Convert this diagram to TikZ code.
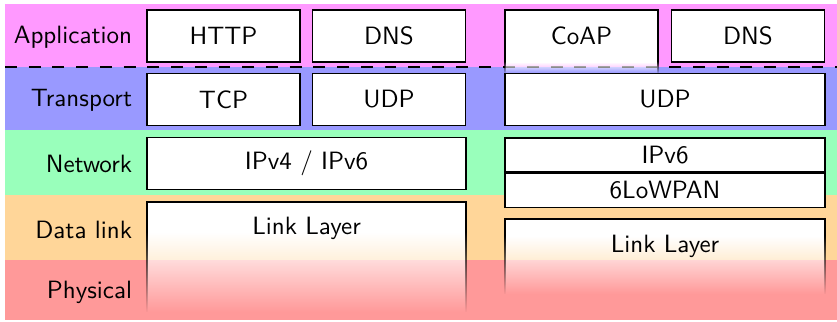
\documentclass[tikz,border=0pt]{standalone}
\usepackage{xcolor}
\usepackage{tikz}
\usetikzlibrary{positioning,fadings}

\definecolor{appcol}{RGB}{255,153,255}
\definecolor{trancol}{RGB}{153,153,255}
\definecolor{netcol}{RGB}{153,255,187}
\definecolor{linkcol}{RGB}{255,214,153}
\definecolor{phycol}{RGB}{255,153,153}

\tikzset{
  layername/.style={anchor=east, font=\sffamily\fontsize{9.5}{11}\selectfont},
  protobox/.style={draw, fill=white, semithick, inner sep=0pt, minimum width=2.04cm, minimum height=0.69cm, font=\sffamily\fontsize{9.5}{11}\selectfont},
  widebox/.style={protobox, minimum width=4.26cm},
  thinbox/.style={widebox, minimum height=0.45cm},
  boxtext/.style={font=\sffamily\fontsize{9.5}{11}\selectfont}
}

\begin{document}
\begin{tikzpicture}
  \useasboundingbox (0,0) rectangle (11.16,-4.293);

  % layer bands
  \fill[appcol]  (0.067,-0.053) rectangle (11.16,-0.893);
  \fill[trancol] (0.067,-0.893) rectangle (11.16,-1.733);
  \fill[netcol]  (0.067,-1.733) rectangle (11.16,-2.6);
  \fill[linkcol] (0.067,-2.6)   rectangle (11.16,-3.467);
  \fill[phycol]  (0.067,-3.467) rectangle (11.16,-4.267);

  \node[layername] (app)  at (1.885,-0.5) {Application};
  \node[layername] (tran) at (1.885,-1.34) {Transport};
  \node[layername] (net)  at (1.885,-2.19) {Network};
  \node[layername] (dl)   at (1.885,-3.06) {Data link};
  \node[layername] (phy)  at (1.885,-3.9) {Physical};

  \draw[semithick, dash pattern=on 4.5pt off 4.5pt] (0.067,-0.893) -- (11.16,-0.893);

  % internet stack
  \node[protobox] (http) at (2.98,-0.48) {HTTP};
  \node[protobox] (dns)  at (5.187,-0.48) {DNS};
  \node[protobox] (tcp)  at (2.98,-1.327) {TCP};
  \node[protobox] (udp)  at (5.187,-1.327) {UDP};
  \node[widebox]  (ip)   at (4.087,-2.18) {IPv4 / IPv6};

  \draw[semithick, fill=white] (1.96,-3.1) -- (1.96,-2.693) -- (6.213,-2.693) -- (6.213,-3.1);
  \fill[white, path fading=south] (1.96,-3.1) rectangle (6.213,-4.16);
  \draw[semithick, path fading=south] (1.96,-3.1) -- (1.96,-4.16) (6.213,-3.1) -- (6.213,-4.16);
  \node[boxtext] (link) at (4.087,-3.05) {Link Layer};

  % iot stack
  \draw[semithick, fill=white] (6.733,-0.827) -- (6.733,-0.133) -- (8.773,-0.133) -- (8.773,-0.827);
  \fill[white, path fading=south] (6.733,-0.827) rectangle (8.773,-0.973);
  \draw[semithick, path fading=south] (6.733,-0.827) -- (6.733,-0.973) (8.773,-0.827) -- (8.773,-0.973);
  \node[boxtext] (coap) at (7.753,-0.48) {CoAP};

  \node[protobox] (dnsb)  at (9.973,-0.48) {DNS};
  \node[widebox]  (udpb)  at (8.867,-1.327) {UDP};
  \node[thinbox]  (ipsix) at (8.867,-2.067) {IPv6};
  \node[thinbox]  (lowpan) at (8.867,-2.54) {6LoWPAN};

  \draw[semithick, fill=white] (6.733,-3.15) -- (6.733,-2.92) -- (11.0,-2.92) -- (11.0,-3.15);
  \fill[white, path fading=south] (6.733,-3.15) rectangle (11.0,-3.92);
  \draw[semithick, path fading=south] (6.733,-3.15) -- (6.733,-3.92) (11.0,-3.15) -- (11.0,-3.92);
  \node[boxtext] (linkb) at (8.867,-3.28) {Link Layer};
\end{tikzpicture}
\end{document}
